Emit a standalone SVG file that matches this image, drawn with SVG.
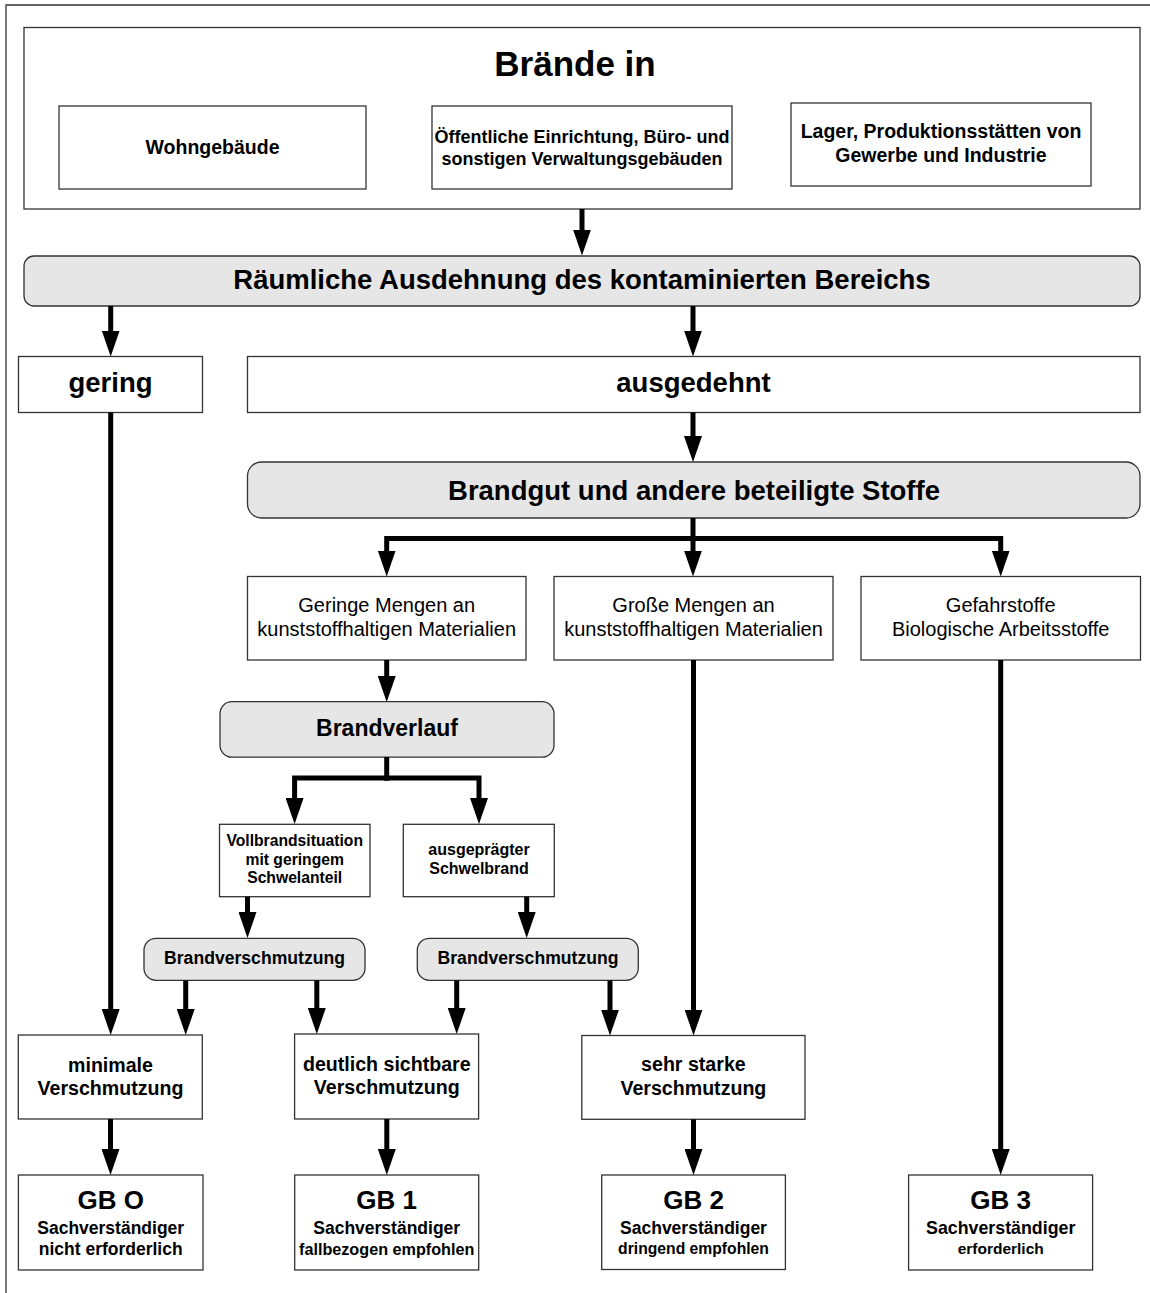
<svg xmlns="http://www.w3.org/2000/svg" width="1150" height="1293" viewBox="0 0 1150 1293">
<style>
.box{fill:#fff;stroke:#333;stroke-width:1.3}
.gbox{fill:#e6e6e6;stroke:#333;stroke-width:1.3}
text{font-family:"Liberation Sans",Arial,Helvetica,sans-serif;fill:#000;text-anchor:middle}
.b{font-weight:bold}
.h1{font-size:35px;font-weight:bold}
.h2{font-size:27.5px;font-weight:bold}
.top{font-size:19.5px;font-weight:bold}
.reg{font-size:20px}
.sm{font-size:16px;font-weight:bold}
.bv{font-size:17.6px;font-weight:bold}
.mid{font-size:19.6px;font-weight:bold}
.gb{font-size:26px;font-weight:bold}
.gs{font-size:17.5px;font-weight:bold}
.con path{fill:none;stroke:#000;stroke-width:5;stroke-linejoin:miter}
.arr{marker-end:url(#ah)}
</style>
<defs>
<marker id="ah" markerUnits="userSpaceOnUse" viewBox="0 0 26 18" markerWidth="26" markerHeight="18" refX="6" refY="9" orient="auto">
<path d="M0,0 L26,9 L0,18 z" fill="#000"/>
</marker>
</defs>
<rect width="1150" height="1293" fill="#fff"/>
<path d="M6,1293 V5 H1150" fill="none" stroke="#333" stroke-width="1.3"/>

<g id="n-braende">
<rect class="box" x="24" y="27.5" width="1116" height="181.5"/>
<text class="h1" x="575" y="76">Brände in</text>
</g>
<g id="n-wohn">
<rect class="box" x="59" y="106" width="307" height="83"/>
<text class="top" x="212.5" y="154">Wohngebäude</text>
</g>
<g id="n-oeff">
<rect class="box" x="432" y="106" width="300" height="83"/>
<text class="b" style="font-size:18px" x="582" y="143">Öffentliche Einrichtung, Büro- und</text>
<text class="b" style="font-size:18px" x="582" y="165">sonstigen Verwaltungsgebäuden</text>
</g>
<g id="n-lager">
<rect class="box" x="791" y="103" width="300" height="83"/>
<text class="top" x="941" y="138">Lager, Produktionsstätten von</text>
<text class="top" x="941" y="162">Gewerbe und Industrie</text>
</g>
<g id="n-raeuml">
<rect class="gbox" x="24" y="256" width="1116" height="50" rx="10"/>
<text class="h2" x="582" y="288.5">Räumliche Ausdehnung des kontaminierten Bereichs</text>
</g>
<g id="n-gering">
<rect class="box" x="18.5" y="356.5" width="184" height="56"/>
<text class="h2" x="110.5" y="392">gering</text>
</g>
<g id="n-ausgedehnt">
<rect class="box" x="247.5" y="356.5" width="892.5" height="56"/>
<text class="h2" x="693.5" y="392">ausgedehnt</text>
</g>
<g id="n-brandgut">
<rect class="gbox" x="247.5" y="462" width="892.5" height="56" rx="14"/>
<text class="h2" x="694" y="499.5">Brandgut und andere beteiligte Stoffe</text>
</g>
<g id="n-geringe">
<rect class="box" x="247.5" y="576.5" width="278.5" height="83.5"/>
<text class="reg" x="386.7" y="612">Geringe Mengen an</text>
<text class="reg" x="386.7" y="635.7">kunststoffhaltigen Materialien</text>
</g>
<g id="n-grosse">
<rect class="box" x="554" y="576.5" width="279" height="83.5"/>
<text class="reg" x="693.5" y="612">Große Mengen an</text>
<text class="reg" x="693.5" y="635.7">kunststoffhaltigen Materialien</text>
</g>
<g id="n-gefahr">
<rect class="box" x="861" y="576.5" width="279.5" height="83.5"/>
<text class="reg" x="1000.7" y="612">Gefahrstoffe</text>
<text class="reg" x="1000.7" y="635.5">Biologische Arbeitsstoffe</text>
</g>
<g id="n-brandverlauf">
<rect class="gbox" x="220" y="701.7" width="334" height="55.5" rx="12"/>
<text class="b" style="font-size:23px" x="387" y="736">Brandverlauf</text>
</g>
<g id="n-vollbrand">
<rect class="box" x="219.5" y="824.3" width="150.5" height="72.4"/>
<text class="sm" style="font-size:15.7px" x="294.7" y="846">Vollbrandsituation</text>
<text class="sm" style="font-size:15.7px" x="294.7" y="864.5">mit geringem</text>
<text class="sm" style="font-size:15.7px" x="294.7" y="883.3">Schwelanteil</text>
</g>
<g id="n-schwelbrand">
<rect class="box" x="403.3" y="824.3" width="151" height="72.4"/>
<text class="sm" x="479" y="855">ausgeprägter</text>
<text class="sm" x="479" y="874">Schwelbrand</text>
</g>
<g id="n-bv1">
<rect class="gbox" x="144" y="938.3" width="221" height="42" rx="12"/>
<text class="bv" x="254.5" y="964">Brandverschmutzung</text>
</g>
<g id="n-bv2">
<rect class="gbox" x="417.3" y="938.3" width="221" height="42" rx="12"/>
<text class="bv" x="528" y="964">Brandverschmutzung</text>
</g>
<g id="n-minimal">
<rect class="box" x="18.3" y="1035" width="184" height="84"/>
<text class="mid" x="110.5" y="1071.7">minimale</text>
<text class="mid" x="110.5" y="1094.5">Verschmutzung</text>
</g>
<g id="n-deutlich">
<rect class="box" x="294.6" y="1034" width="184" height="85"/>
<text class="mid" x="386.8" y="1070.5">deutlich sichtbare</text>
<text class="mid" x="386.8" y="1094">Verschmutzung</text>
</g>
<g id="n-stark">
<rect class="box" x="581.8" y="1035.5" width="223.2" height="83.8"/>
<text class="mid" x="693.4" y="1070.7">sehr starke</text>
<text class="mid" x="693.4" y="1095">Verschmutzung</text>
</g>
<g id="n-gb0">
<rect class="box" x="18.4" y="1175" width="184.6" height="95"/>
<text class="gb" x="110.7" y="1208.5">GB O</text>
<text class="gs" x="110.7" y="1233.5">Sachverständiger</text>
<text class="gs" x="110.7" y="1255">nicht erforderlich</text>
</g>
<g id="n-gb1">
<rect class="box" x="294.7" y="1175" width="184" height="95"/>
<text class="gb" x="386.7" y="1208.5">GB 1</text>
<text class="gs" x="386.7" y="1233.5">Sachverständiger</text>
<text class="gs" style="font-size:16.2px" x="386.7" y="1254.5">fallbezogen empfohlen</text>
</g>
<g id="n-gb2">
<rect class="box" x="601.7" y="1175" width="183.7" height="94.5"/>
<text class="gb" x="693.5" y="1208.5">GB 2</text>
<text class="gs" x="693.5" y="1233.5">Sachverständiger</text>
<text class="gs" style="font-size:15.7px" x="693.5" y="1253.5">dringend empfohlen</text>
</g>
<g id="n-gb3">
<rect class="box" x="908.6" y="1175" width="184" height="95"/>
<text class="gb" x="1000.7" y="1208.5">GB 3</text>
<text class="gs" style="font-size:17.8px" x="1000.7" y="1233.5">Sachverständiger</text>
<text class="gs" style="font-size:15.5px" x="1000.7" y="1253.5">erforderlich</text>
</g>

<g id="connectors" class="con">
<path class="arr" d="M582,209 V235.5"/>
<path class="arr" d="M110.7,306 V336.5"/>
<path class="arr" d="M693,306 V336.5"/>
<path class="arr" d="M693,412.5 V442"/>
<path class="arr" d="M693,518 V556.5"/>
<path class="arr" d="M695.5,538.5 H386.7 V556.5"/>
<path class="arr" d="M690.5,538.5 H1000.7 V556.5"/>
<path class="arr" d="M386.7,660 V682"/>
<path d="M386.7,757 V780.5"/>
<path class="arr" d="M389.2,778 H294.6 V804"/>
<path class="arr" d="M384.2,778 H479 V804"/>
<path class="arr" d="M247.5,896.7 V918"/>
<path class="arr" d="M526.7,896.7 V918"/>
<path class="arr" d="M185.7,980.5 V1015"/>
<path class="arr" d="M316.8,980.5 V1014"/>
<path class="arr" d="M456.7,980.5 V1014"/>
<path class="arr" d="M610,980.5 V1015.5"/>
<path class="arr" d="M110.7,412.5 V1015"/>
<path class="arr" d="M693.5,660 V1015.5"/>
<path class="arr" d="M1000.7,660 V1155"/>
<path class="arr" d="M110.5,1119 V1155"/>
<path class="arr" d="M386.8,1119 V1155"/>
<path class="arr" d="M693.5,1119.3 V1155"/>
</g>
</svg>
